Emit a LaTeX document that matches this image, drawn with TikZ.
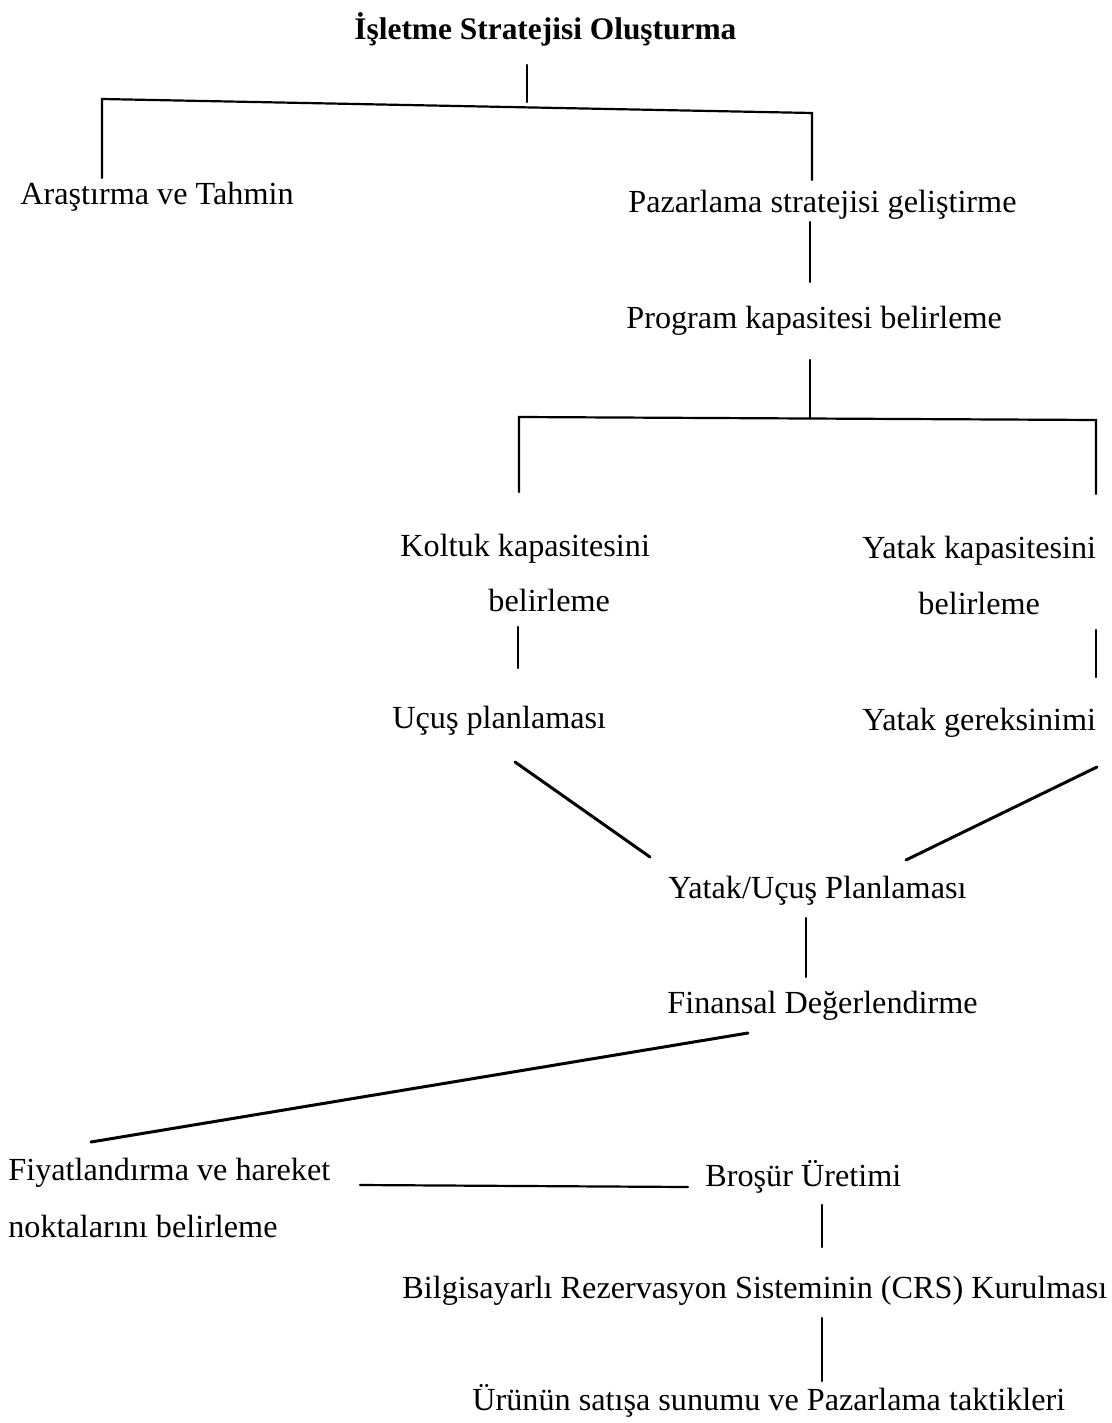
\documentclass[tikz,border=0pt]{standalone}
\usepackage{fontspec}
\setmainfont{Liberation Serif}
\begin{document}
\begin{tikzpicture}[x=0.5pt,y=-0.5pt,
  lbl/.style={inner sep=0pt,anchor=base west,font=\fontsize{16.1}{19}\selectfont},
  conn/.style={line width=1.1pt,line cap=round},
  slant/.style={line width=1.5pt,line cap=round}]
\useasboundingbox[fill=white] (0,0) rectangle (1112,1423);

% labels
\node[lbl,font=\fontsize{15.7}{19}\selectfont\bfseries] (root) at (354,40) {İşletme Stratejisi Oluşturma};
\node[lbl] (arastirma) at (20,205) {Araştırma ve Tahmin};
\node[lbl] (pazarlama) at (628,213) {Pazarlama stratejisi geliştirme};
\node[lbl] (program) at (626,328) {Program kapasitesi belirleme};
\node[lbl] (koltuk1) at (400,556) {Koltuk kapasitesini};
\node[lbl] (koltuk2) at (488,611) {belirleme};
\node[lbl] (yatak1) at (862,558) {Yatak kapasitesini};
\node[lbl] (yatak2) at (918,614) {belirleme};
\node[lbl] (ucus) at (392,728) {Uçuş planlaması};
\node[lbl] (gereksinim) at (862,730) {Yatak gereksinimi};
\node[lbl] (yu) at (668,898) {Yatak/Uçuş Planlaması};
\node[lbl] (finans) at (667,1013) {Finansal Değerlendirme};
\node[lbl] (fiyat1) at (8,1180) {Fiyatlandırma ve hareket};
\node[lbl] (fiyat2) at (8,1237) {noktalarını belirleme};
\node[lbl] (brosur) at (705,1186) {Broşür Üretimi};
\node[lbl] (crs) at (402,1298) {Bilgisayarlı Rezervasyon Sisteminin (CRS) Kurulması};
\node[lbl] (urun) at (472,1410) {Ürünün satışa sunumu ve Pazarlama taktikleri};

% connector end points
\coordinate (rootS) at (527,65);
\coordinate (bar1M) at (527,102);
\coordinate (bar1L) at (102,99);
\coordinate (bar1R) at (812,113);
\coordinate (arastirmaN) at (102,178);
\coordinate (pazarlamaN) at (812,180);
\coordinate (pazarlamaS) at (810,222);
\coordinate (programN) at (810,282);
\coordinate (programS) at (810,360);
\coordinate (bar2M) at (810,418);
\coordinate (bar2L) at (519,417);
\coordinate (bar2R) at (1096,420);
\coordinate (koltukN) at (519,492);
\coordinate (yatakN) at (1096,494);
\coordinate (koltukS) at (518,627);
\coordinate (ucusN) at (518,668);
\coordinate (yatakS) at (1096,630);
\coordinate (gereksinimN) at (1096,677);
\coordinate (ucusS) at (515,762);
\coordinate (yuNW) at (650,857);
\coordinate (gereksinimS) at (1097,767);
\coordinate (yuNE) at (906,860);
\coordinate (yuS) at (806,918);
\coordinate (finansN) at (806,977);
\coordinate (finansS) at (748,1033);
\coordinate (fiyatN) at (91,1142);
\coordinate (fiyatE) at (360,1185);
\coordinate (brosurW) at (688,1187);
\coordinate (brosurS) at (822,1205);
\coordinate (crsN) at (822,1247);
\coordinate (crsS) at (822,1318);
\coordinate (urunN) at (822,1381);

% tree connectors
\draw[conn] (rootS) -- (bar1M);
\draw[conn] (arastirmaN) -- (bar1L) -- (bar1R) -- (pazarlamaN);
\draw[conn] (pazarlamaS) -- (programN);
\draw[conn] (programS) -- (bar2M);
\draw[conn] (koltukN) -- (bar2L) -- (bar2R) -- (yatakN);
\draw[conn] (koltukS) -- (ucusN);
\draw[conn] (yatakS) -- (gereksinimN);
\draw[slant] (ucusS) -- (yuNW);
\draw[slant] (gereksinimS) -- (yuNE);
\draw[conn] (yuS) -- (finansN);
\draw[slant] (finansS) -- (fiyatN);
\draw[conn] (fiyatE) -- (brosurW);
\draw[conn] (brosurS) -- (crsN);
\draw[conn] (crsS) -- (urunN);
\end{tikzpicture}
\end{document}
